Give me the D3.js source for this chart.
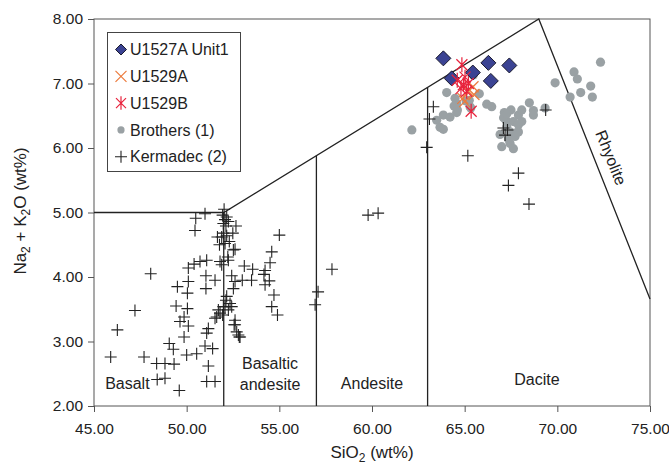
<!DOCTYPE html>
<html><head><meta charset="utf-8">
<script src="https://cdn.jsdelivr.net/npm/d3@7"></script>
<style>
body{margin:0;background:#fff;}
text{font-family:"Liberation Sans",Arial,sans-serif;fill:#222;}
</style></head>
<body><svg id="c" width="669" height="466"></svg>
<script>
// ---- data ----
const xTicks = [45,50,55,60,65,70,75];
const yTicks = [2,3,4,5,6,7,8];
const seriesNames = ["U1527A Unit1","U1529A","U1529B","Brothers (1)","Kermadec (2)"];
const fieldLabels = ["Basalt","Basaltic andesite","Andesite","Dacite","Rhyolite"];

const u1527a = [[63.85,7.39],[66.28,7.32],[67.41,7.28],[64.30,7.08],[65.44,7.17],[66.41,7.04]];
const u1529a = [[65.45,6.95],[65.50,6.83],[64.90,6.77],[65.20,6.88],[65.00,6.72]];
const u1529b = [[64.85,7.29],[64.60,7.05],[65.02,7.10],[64.93,6.98],[65.20,7.00],[65.11,6.88],[65.35,6.57],[64.80,6.92]];
const brothers = [[62.15,6.28],[64.03,6.86],[64.48,6.77],[64.57,6.69],[65.47,7.13],[65.25,6.74],[65.29,6.64],
 [65.79,6.84],[66.19,6.68],[66.46,6.64],[63.85,6.51],[63.49,6.43],[64.21,6.48],[64.57,6.55],[63.67,6.32],
 [63.85,6.29],[64.43,6.65],[65.08,6.73],[65.33,6.62],[64.61,6.59],
 [67.14,6.55],[67.50,6.59],[67.90,6.51],[68.08,6.59],[68.49,6.70],[68.71,6.58],[68.71,6.51],[69.34,6.62],
 [69.88,7.01],[70.69,6.79],[70.90,7.18],[71.08,7.07],[71.26,6.86],[71.80,6.96],[71.89,6.79],[72.33,7.33],
 [67.23,6.43],[67.63,6.41],[67.90,6.36],[67.27,6.33],[67.45,6.25],[67.90,6.25],[67.72,6.18],[66.91,6.21],
 [67.00,6.02],[67.45,6.07],[67.63,5.99],[67.36,6.14],[67.10,6.47],[68.08,6.41],[67.81,6.24],[67.27,6.53]];
const kermadec = [[63.31,6.64],[63.10,6.45],[62.95,6.01],[65.17,5.88],[69.37,6.59],[67.09,6.31],[67.31,6.28],
 [67.18,6.20],[67.90,5.61],[67.36,5.42],[68.47,5.13],
 [56.93,3.57],[57.09,3.77],[57.84,4.12],[59.79,4.96],[60.33,4.99],
 [52.02,5.05],[50.99,4.98],[50.49,4.91],[50.45,4.72],[52.66,4.79],[52.49,4.68],[55.00,4.65],[54.59,4.39],
 [54.50,4.22],[54.23,4.10],[54.46,3.94],[54.23,3.88],[54.71,3.72],[54.59,3.54],[54.90,3.41],[52.61,4.43],
 [52.22,4.31],[51.80,4.24],[51.77,4.50],[51.66,4.62],[50.72,4.24],[51.08,4.26],[50.09,4.14],[48.06,4.05],
 [51.04,4.02],[51.53,3.95],[50.09,3.93],[49.50,3.85],[51.04,3.82],[50.04,3.75],[52.43,4.02],[53.11,4.17],
 [53.56,4.12],[53.00,3.95],[52.61,3.93],[54.17,4.04],[52.52,3.82],[52.16,3.70],[52.07,3.54],[49.43,3.55],
 [50.04,3.51],[51.71,3.49],[51.53,3.36],[47.21,3.48],[49.86,3.38],[49.64,3.31],[50.09,3.24],[51.17,3.20],
 [51.08,3.13],[49.86,3.07],[52.56,3.26],[52.84,3.07],[46.26,3.18],[49.06,2.97],[49.28,2.88],[50.99,2.93],
 [51.40,2.89],[50.54,2.81],[50.00,2.79],[45.90,2.76],[47.70,2.76],[48.38,2.66],[48.83,2.66],[49.32,2.65],
 [51.17,2.62],[48.41,2.41],[48.83,2.43],[51.08,2.38],[51.53,2.38],[49.60,2.24],
 [51.94,4.96],[52.07,4.89],[52.16,4.93],[51.98,4.83],[52.12,4.79],[52.25,4.86],[51.98,4.68],[51.89,4.62],
 [52.16,4.64],[52.07,4.52],[52.30,4.55],[52.52,4.42],[52.25,4.26],[51.89,4.19],[52.34,3.59],[52.12,3.64],
 [51.98,3.54],[52.25,3.49],[51.80,3.44],[51.62,3.38],[51.94,3.41],[52.43,3.54],[52.61,3.33],[52.79,3.10],
 [52.70,3.15],[52.88,3.07],[52.61,3.26],[50.40,4.20],[53.50,3.95]];
// TAS boundary polylines
const boundaryTop = [[45,5],[52,5],[69,8],[75,3.66]];
const verticals = [[[52,2],[52,5]],[[57,2],[57,5.88]],[[63,2],[63,6.94]]];

// ---- layout ----
const svg = d3.select("#c");
const L=94,R=650,T=19,B=406;
const x = d3.scaleLinear().domain([45,75]).range([L,R]);
const y = d3.scaleLinear().domain([2,8]).range([B,T]);

// axes
const xa = svg.append("g").attr("transform",`translate(0,${B})`)
  .call(d3.axisBottom(x).tickValues(xTicks).tickFormat(d3.format(".2f")).tickSize(6).tickPadding(6));
const ya = svg.append("g").attr("transform",`translate(${L},0)`)
  .call(d3.axisLeft(y).tickValues(yTicks).tickFormat(d3.format(".2f")).tickSize(6).tickPadding(5));
[xa,ya].forEach(a=>{a.select(".domain").remove();a.selectAll("line").attr("stroke","#555");
  a.selectAll("text").style("font-size","15.5px").attr("fill","#222");});
xa.selectAll("text").attr("dy","1.0em");
// frame
svg.append("rect").attr("x",L).attr("y",T).attr("width",R-L).attr("height",B-T)
  .attr("fill","none").attr("stroke","#555").attr("stroke-width",1);

// boundaries
const line = d3.line().x(d=>x(d[0])).y(d=>y(d[1]));
svg.append("path").attr("d",line(boundaryTop)).attr("fill","none").attr("stroke","#222").attr("stroke-width",1.3);
verticals.forEach(v=>svg.append("path").attr("d",line(v)).attr("fill","none").attr("stroke","#222").attr("stroke-width",1.3));

// field labels
const fl = svg.append("g").style("font-size","16px");
fl.append("text").attr("x",x(46.8)).attr("y",y(2.27)).attr("text-anchor","middle").text(fieldLabels[0]);
const ba = fl.append("text").attr("x",x(54.5)).attr("text-anchor","middle");
ba.append("tspan").attr("x",x(54.5)).attr("y",y(2.58)).text("Basaltic");
ba.append("tspan").attr("x",x(54.5)).attr("y",y(2.25)).text("andesite");
fl.append("text").attr("x",x(60.0)).attr("y",y(2.27)).attr("text-anchor","middle").text(fieldLabels[2]);
fl.append("text").attr("x",x(68.9)).attr("y",y(2.32)).attr("text-anchor","middle").text(fieldLabels[3]);
fl.append("text").attr("transform",`translate(${x(72.9)},${y(5.85)}) rotate(68)`).attr("text-anchor","middle")
  .attr("dy","0.35em").text(fieldLabels[4]);

// markers
const g = svg.append("g");
function drawPlus(sel,s,color,w){sel.append("path").attr("d",`M${-s},0H${s}M0,${-s}V${s}`).attr("stroke",color).attr("stroke-width",w).attr("fill","none");}
function drawX(sel,s,color,w){sel.append("path").attr("d",`M${-s},${-s}L${s},${s}M${-s},${s}L${s},${-s}`).attr("stroke",color).attr("stroke-width",w).attr("fill","none");}
function drawAst(sel,s,color,w){sel.append("path").attr("d",`M${-s},${-s}L${s},${s}M${-s},${s}L${s},${-s}M0,${-s*1.35}V${s*1.35}`).attr("stroke",color).attr("stroke-width",w).attr("fill","none");}
function drawDiamond(sel,s){sel.append("path").attr("d",`M0,${-s}L${s},0L0,${s}L${-s},0Z`).attr("fill","#3b4393").attr("stroke","#1a1a2e").attr("stroke-width",1);}
function drawDot(sel,r){sel.append("circle").attr("r",r).attr("fill","#9aa1a4");}

g.selectAll(".br").data(brothers).join("g").attr("transform",d=>`translate(${x(d[0])},${y(d[1])})`).each(function(){drawDot(d3.select(this),4.6);});
g.selectAll(".km").data(kermadec).join("g").attr("transform",d=>`translate(${x(d[0])},${y(d[1])})`).each(function(){drawPlus(d3.select(this),6,"#222",1.1);});
g.selectAll(".ua").data(u1527a).join("g").attr("transform",d=>`translate(${x(d[0])},${y(d[1])})`).each(function(){drawDiamond(d3.select(this),7.5);});
g.selectAll(".a").data(u1529a).join("g").attr("transform",d=>`translate(${x(d[0])},${y(d[1])})`).each(function(){drawX(d3.select(this),5.5,"#ec7a3c",1.2);});
g.selectAll(".b").data(u1529b).join("g").attr("transform",d=>`translate(${x(d[0])},${y(d[1])})`).each(function(){drawAst(d3.select(this),5.5,"#e8223c",1.2);});

// legend
const lg = svg.append("g");
lg.append("rect").attr("x",107.5).attr("y",32.5).attr("width",133).attr("height",139).attr("fill","#fff").attr("stroke","#444");
const drawers=[s=>drawDiamond(s,5.5),s=>drawX(s,5.5,"#ec7a3c",1.2),s=>drawAst(s,5,"#e8223c",1.2),s=>drawDot(s,3.6),s=>drawPlus(s,6,"#222",1.1)];
seriesNames.forEach((n,i)=>{
  const cy = 49.5 + i*26.8;
  const m = lg.append("g").attr("transform",`translate(121,${cy})`); drawers[i](m);
  lg.append("text").attr("x",130).attr("y",cy).attr("dy","0.36em").style("font-size","16px").text(n);
});

// axis titles
const xt = svg.append("text").attr("x",(L+R)/2).attr("y",458).attr("text-anchor","middle").style("font-size","17px");
xt.append("tspan").text("SiO");
xt.append("tspan").attr("dy",4).style("font-size","12px").text("2");
xt.append("tspan").attr("dy",-4).text(" (wt%)");
const yt = svg.append("text").attr("transform",`translate(26,211) rotate(-90)`).attr("text-anchor","middle").style("font-size","17px");
yt.append("tspan").text("Na");
yt.append("tspan").attr("dy",4).style("font-size","12px").text("2");
yt.append("tspan").attr("dy",-4).text(" + K");
yt.append("tspan").attr("dy",4).style("font-size","12px").text("2");
yt.append("tspan").attr("dy",-4).text("O (wt%)");
</script></body></html>
